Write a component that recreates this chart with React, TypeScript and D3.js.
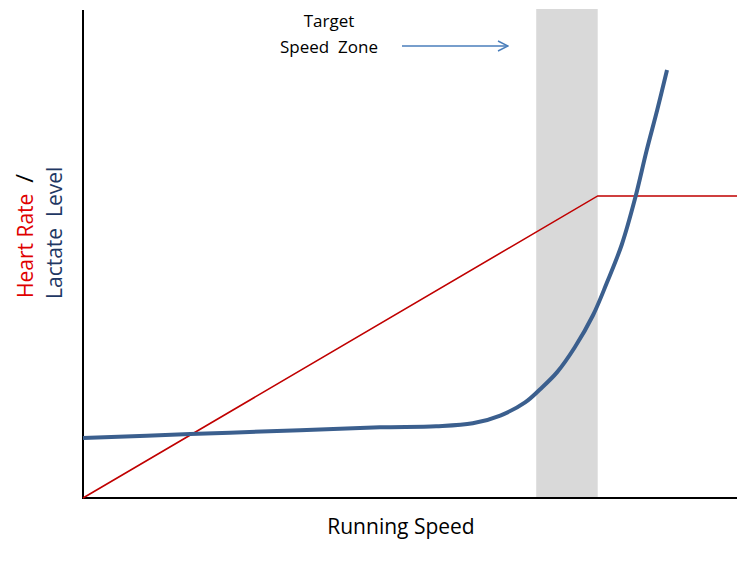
import React from 'react';
import * as d3 from 'd3';

// speed units 0..100 along the x axis, level units 0..100 on y
const heartSpeed = [0, 78.7, 100];
const heartLevel = [0, 61.9, 61.9];

const lactateSpeed = [0, 16.4, 33.2, 45.4, 54.0, 59.6, 63.8, 67.6, 69.9, 72.5, 75.2, 78.0, 80.1, 82.4, 84.4, 86.2, 87.8, 89.3];
const lactateLevel = [12.3, 13.1, 13.9, 14.5, 14.7, 15.3, 16.9, 19.6, 22.3, 25.8, 30.9, 37.5, 44.1, 52.0, 61.3, 71.3, 79.5, 87.7];

const zoneStart = 69.3;
const zoneEnd = 78.7;

const width = 737;
const height = 570;
const font = "'Open Sans', 'Lato', sans-serif";

const App: React.FC = () => {
  const x = d3.scaleLinear().domain([0, 100]).range([83, 737]);
  const y = d3.scaleLinear().domain([0, 100]).range([498, 10]);

  const heartLine = d3.line<number>()
    .x((_, i) => x(heartSpeed[i]))
    .y((d) => y(d));

  const lactateLine = d3.line<number>()
    .x((_, i) => x(lactateSpeed[i]))
    .y((d) => y(d))
    .curve(d3.curveCatmullRom.alpha(0.5));

  return (
    <div style={{ position: 'absolute', left: 0, top: 0 }}>
      <svg width={width} height={height} style={{ display: 'block', background: '#fff' }}>
        <defs>
          <marker id="arrow" viewBox="0 0 12 12" refX="11" refY="6" markerWidth="12" markerHeight="12"
            markerUnits="userSpaceOnUse" orient="auto">
            <path d="M1,1 L11,6 L1,11" fill="none" stroke="#4a7ebb" strokeWidth={1.4} />
          </marker>
        </defs>

        {/* target zone band */}
        <rect x={x(zoneStart)} y={9} width={x(zoneEnd) - x(zoneStart)} height={y(0) - 9} fill="#d9d9d9" />

        {/* axes */}
        <line x1={x(0)} x2={x(0)} y1={y(100)} y2={y(0) + 1} stroke="#000" strokeWidth={2} />
        <line x1={x(0)} x2={x(100)} y1={y(0)} y2={y(0)} stroke="#000" strokeWidth={2} />

        {/* heart rate */}
        <path d={heartLine(heartLevel) || ''} fill="none" stroke="#c00000" strokeWidth={1.6} />

        {/* lactate */}
        <path d={lactateLine(lactateLevel) || ''} fill="none" stroke="#3b5f8e" strokeWidth={4} strokeLinecap="butt" />

        {/* annotation */}
        <text x={329} y={27} textAnchor="middle" fontFamily={font} fontSize={17} fill="#000">Target</text>
        <text x={329} y={53} textAnchor="middle" fontFamily={font} fontSize={17} fill="#000" xmlSpace="preserve">Speed  Zone</text>
        <line x1={402} x2={508} y1={46} y2={46} stroke="#4a7ebb" strokeWidth={1.4} markerEnd="url(#arrow)" />

        {/* axis titles */}
        <text x={401} y={534} textAnchor="middle" fontFamily={font} fontSize={21} fill="#000">Running Speed</text>
        <text transform="translate(33,298) rotate(-90)" fontFamily={font} fontSize={21} xmlSpace="preserve">
          <tspan fill="#e00000">Heart Rate  </tspan>
          <tspan fill="#000" fontSize={24}>/</tspan>
        </text>
        <text transform="translate(62,299) rotate(-90)" fontFamily={font} fontSize={21} fill="#1f3864" xmlSpace="preserve">Lactate  Level</text>
      </svg>
    </div>
  );
};

export default App;
